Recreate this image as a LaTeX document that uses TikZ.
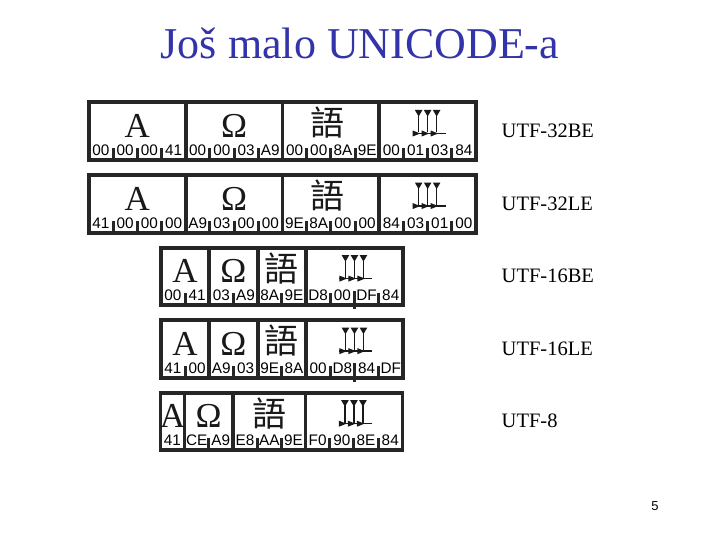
\documentclass[tikz,border=0pt]{standalone}
\usepackage{fontspec}
\setmainfont{Liberation Serif}
\newfontfamily\arialf{Liberation Sans}
\newfontfamily\cjk{Noto Sans CJK SC}
\definecolor{framec}{RGB}{38,38,38}
\definecolor{glyphc}{RGB}{25,25,25}
\definecolor{titleblue}{RGB}{51,51,170}
\def\unitw{24.2}
\def\gapw{3.7}
\newcommand\rowframe[3]{\fill[framec] (#1,#2) rectangle ({#1+#3*\unitw+\gapw},{#2+61.5});}
\newcommand\cellbox[4]{\fill[white] ({#1+\gapw+#3*\unitw},{#2+4}) rectangle ({#1+(#3+#4)*\unitw},{#2+57.5});}
\newcommand\tickmark[3]{\fill[framec] ({#1+#3*\unitw+\gapw/2-1.5},{#2+47.5}) rectangle ++(3,11);}
\newcommand\talltick[3]{\fill[framec] ({#1+#3*\unitw+\gapw/2-1.5},{#2+45}) rectangle ++(3,18.5);}
\newcommand\bytelabels[4]{\foreach \t [count=\i from 0] in {#3} \node[bytel, name=#4b\i] at ({#1+(\i+0.5)*\unitw+\gapw/2},{#2+55}) {\t};}
\newcommand\cune[2]{%
  \foreach \dx in {-9,0,9} {
    \fill[glyphc] ({#1+\dx-3.8},{#2+9.5}) -- ({#1+\dx+3.8},{#2+9.5}) -- ({#1+\dx},{#2+16}) -- cycle;
    \draw[glyphc, line width=1.6pt] ({#1+\dx},{#2+10}) -- ({#1+\dx},{#2+32});
  }
  \draw[glyphc, line width=1.4pt] ({#1-15},{#2+33}) -- ({#1+18},{#2+33});
  \foreach \hx in {-15,-6,3} {
    \fill[glyphc] ({#1+\hx},{#2+30}) -- ({#1+\hx},{#2+36}) -- ({#1+\hx+7.5},{#2+33}) -- cycle;
  }
}
\begin{document}
\begin{tikzpicture}[x=1pt,y=-1pt,
  bytel/.style={inner sep=0pt, anchor=base, font=\arialf\fontsize{15.3}{15.3}\selectfont, text=black},
  bigg/.style={inner sep=0pt, anchor=base, font=\fontsize{35}{35}\selectfont, text=glyphc},
  cjkg/.style={inner sep=0pt, anchor=base, font=\cjk\fontsize{34}{34}\selectfont, text=glyphc},
  enc/.style={inner sep=0pt, anchor=base west, font=\fontsize{20.5}{20.5}\selectfont, text=black}]
\useasboundingbox (0,0) rectangle (720,540);
\fill[white] (0,0) rectangle (720,540);
\node[inner sep=0pt, anchor=base, font=\fontsize{44}{44}\selectfont, text=titleblue] (title) at (360,58.5) {Još malo UNICODE-a};
% ---------- Row 1 : UTF-32BE
\def\xo{87}\def\T{100.5}
\rowframe{\xo}{\T}{16}
\cellbox{\xo}{\T}{0}{4}\cellbox{\xo}{\T}{4}{4}\cellbox{\xo}{\T}{8}{4}\cellbox{\xo}{\T}{12}{4}
\foreach \b in {1,2,3,5,6,7,9,10,11,13,14,15} {\tickmark{\xo}{\T}{\b}}
\bytelabels{\xo}{\T}{00,00,00,41,00,00,03,A9,00,00,8A,9E,00,01,03,84}{ra}
\node[bigg] (raA) at ({\xo+\gapw/2+2*\unitw},{\T+37}) {A};
\node[bigg] (raO) at ({\xo+\gapw/2+6*\unitw},{\T+37}) {Ω};
\node[cjkg] (raY) at ({\xo+\gapw/2+10*\unitw-3},{\T+35.5}) {語};
\cune{\xo+\gapw/2+14*\unitw}{\T}
\node[enc] (e1) at (501.5,{\T+37}) {UTF-32BE};
% ---------- Row 2 : UTF-32LE
\def\xo{87}\def\T{173.05}
\rowframe{\xo}{\T}{16}
\cellbox{\xo}{\T}{0}{4}\cellbox{\xo}{\T}{4}{4}\cellbox{\xo}{\T}{8}{4}\cellbox{\xo}{\T}{12}{4}
\foreach \b in {1,2,3,5,6,7,9,10,11,13,14,15} {\tickmark{\xo}{\T}{\b}}
\bytelabels{\xo}{\T}{41,00,00,00,A9,03,00,00,9E,8A,00,00,84,03,01,00}{rb}
\node[bigg] (rbA) at ({\xo+\gapw/2+2*\unitw},{\T+37}) {A};
\node[bigg] (rbO) at ({\xo+\gapw/2+6*\unitw},{\T+37}) {Ω};
\node[cjkg] (rbY) at ({\xo+\gapw/2+10*\unitw-3},{\T+35.5}) {語};
\cune{\xo+\gapw/2+14*\unitw}{\T}
\node[enc] (e2) at (501.5,{\T+37}) {UTF-32LE};
% ---------- Row 3 : UTF-16BE
\def\xo{159}\def\T{245.6}
\rowframe{\xo}{\T}{10}
\cellbox{\xo}{\T}{0}{2}\cellbox{\xo}{\T}{2}{2}\cellbox{\xo}{\T}{4}{2}\cellbox{\xo}{\T}{6}{4}
\foreach \b in {1,3,5,7,9} {\tickmark{\xo}{\T}{\b}}
\talltick{\xo}{\T}{8}
\bytelabels{\xo}{\T}{00,41,03,A9,8A,9E,D8,00,DF,84}{rc}
\node[bigg] (rcA) at ({\xo+\gapw/2+1*\unitw},{\T+37}) {A};
\node[bigg] (rcO) at ({\xo+\gapw/2+3*\unitw},{\T+37}) {Ω};
\node[cjkg] (rcY) at ({\xo+\gapw/2+5*\unitw},{\T+35.5}) {語};
\cune{\xo+\gapw/2+8*\unitw}{\T}
\node[enc] (e3) at (501.5,{\T+37}) {UTF-16BE};
% ---------- Row 4 : UTF-16LE
\def\xo{159}\def\T{318.15}
\rowframe{\xo}{\T}{10}
\cellbox{\xo}{\T}{0}{2}\cellbox{\xo}{\T}{2}{2}\cellbox{\xo}{\T}{4}{2}\cellbox{\xo}{\T}{6}{4}
\foreach \b in {1,3,5,7,9} {\tickmark{\xo}{\T}{\b}}
\talltick{\xo}{\T}{8}
\bytelabels{\xo}{\T}{41,00,A9,03,9E,8A,00,D8,84,DF}{rd}
\node[bigg] (rdA) at ({\xo+\gapw/2+1*\unitw},{\T+37}) {A};
\node[bigg] (rdO) at ({\xo+\gapw/2+3*\unitw},{\T+37}) {Ω};
\node[cjkg] (rdY) at ({\xo+\gapw/2+5*\unitw},{\T+35.5}) {語};
\cune{\xo+\gapw/2+8*\unitw}{\T}
\node[enc] (e4) at (501.5,{\T+37}) {UTF-16LE};
% ---------- Row 5 : UTF-8
\def\xo{158.5}\def\T{390.7}
\rowframe{\xo}{\T}{10}
\cellbox{\xo}{\T}{0}{1}\cellbox{\xo}{\T}{1}{2}\cellbox{\xo}{\T}{3}{3}\cellbox{\xo}{\T}{6}{4}
\foreach \b in {2,4,5,7,8,9} {\tickmark{\xo}{\T}{\b}}
\bytelabels{\xo}{\T}{41,CE,A9,E8,AA,9E,F0,90,8E,84}{re}
\node[bigg] (reA) at ({\xo+\gapw/2+0.5*\unitw},{\T+37}) {A};
\node[bigg] (reO) at ({\xo+\gapw/2+2*\unitw},{\T+37}) {Ω};
\node[cjkg] (reY) at ({\xo+\gapw/2+4.5*\unitw},{\T+35.5}) {語};
\cune{\xo+\gapw/2+8*\unitw}{\T}
\node[enc] (e5) at (501.5,{\T+37}) {UTF-8};
% page number
\node[inner sep=0pt, anchor=base, font=\arialf\fontsize{13}{13}\selectfont] (pg) at (655,510) {5};
\end{tikzpicture}
\end{document}
